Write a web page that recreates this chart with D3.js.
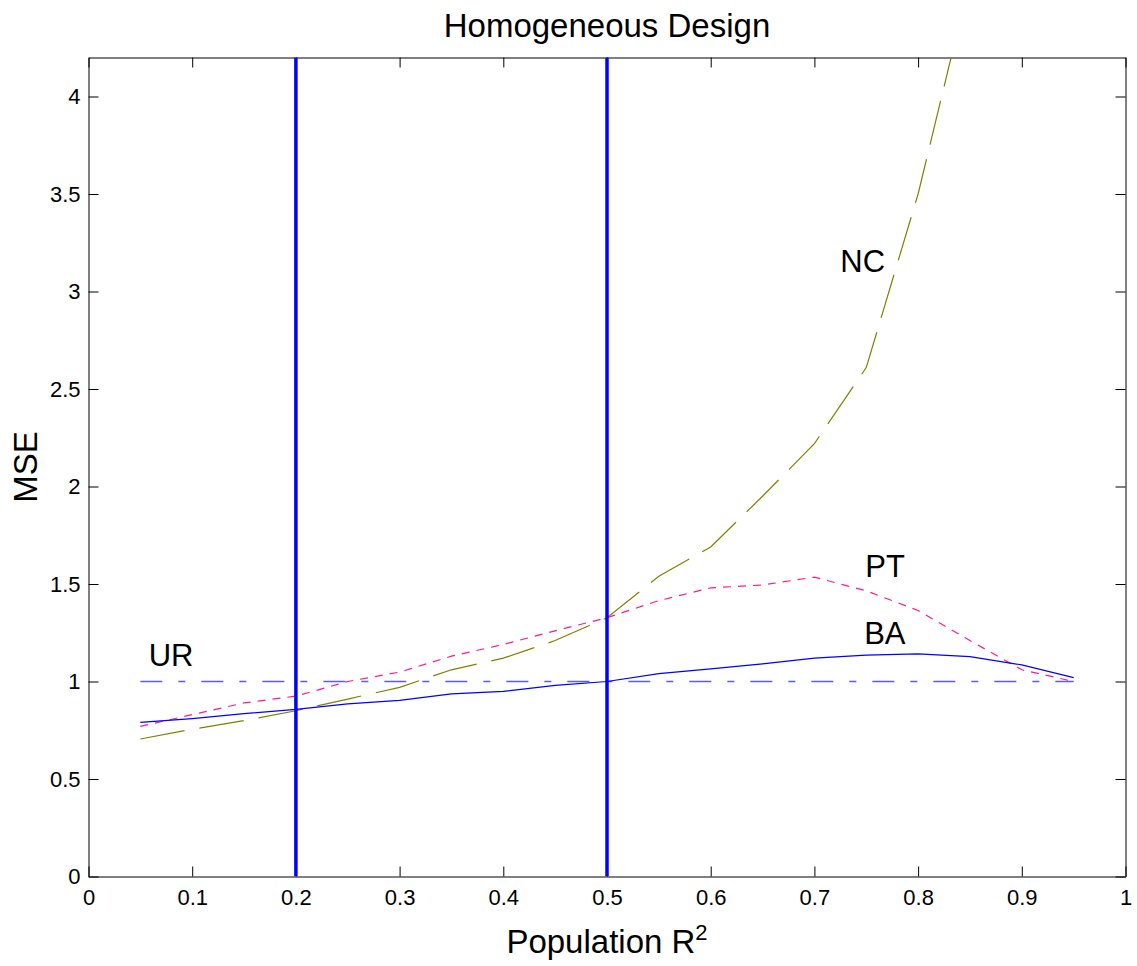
<!DOCTYPE html>
<html>
<head>
<meta charset="utf-8">
<script src="https://cdn.jsdelivr.net/npm/d3@7"></script>
<style>
  body { margin: 0; background: #fff; }
  #chart { width: 1137px; height: 966px; }
</style>
</head>
<body>
<div id="chart"></div>
<script>
// population R^2 grid
const r2 = [0.05, 0.1, 0.15, 0.2, 0.25, 0.3, 0.35, 0.4, 0.45, 0.5,
            0.55, 0.6, 0.65, 0.7, 0.75, 0.8, 0.85, 0.9, 0.95];

// MSE per estimator
const mseBA = [0.79, 0.81, 0.835, 0.857, 0.885, 0.903, 0.937, 0.949, 0.98, 1.0,
               1.04, 1.065, 1.09, 1.12, 1.135, 1.142, 1.128, 1.085, 1.02];
const msePT = [0.77, 0.83, 0.89, 0.925, 1.0, 1.048, 1.13, 1.19, 1.26, 1.327,
               1.415, 1.48, 1.495, 1.535, 1.465, 1.364, 1.21, 1.06, 1.0];
const mseNC = [0.705, 0.755, 0.8, 0.85, 0.91, 0.97, 1.06, 1.12, 1.21, 1.327,
               1.54, 1.69, 1.95, 2.22, 2.61, 3.5, 4.6];
const mseUR = [1, 1, 1, 1, 1, 1, 1, 1, 1, 1, 1, 1, 1, 1, 1, 1, 1, 1, 1];

// design cut-offs (thick vertical lines)
const cutoffs = [0.2, 0.5];

const xTicks = [0, 0.1, 0.2, 0.3, 0.4, 0.5, 0.6, 0.7, 0.8, 0.9, 1];
const yTicks = [0, 0.5, 1, 1.5, 2, 2.5, 3, 3.5, 4];

// curve labels: [text, x, y] in data units
const labels = [
  ['UR', 0.058, 1.082],
  ['NC', 0.725, 3.1],
  ['PT', 0.749, 1.535],
  ['BA', 0.748, 1.19]
];

const W = 1137, H = 966;
const margin = { top: 57.5, right: 11.5, bottom: 89.5, left: 88.5 };
const iw = W - margin.left - margin.right;
const ih = H - margin.top - margin.bottom;
const font = 'Liberation Sans, Arial, Helvetica, sans-serif';

const svg = d3.select('#chart')
  .append('svg')
  .attr('width', W)
  .attr('height', H)
  .attr('font-family', font);

const x = d3.scaleLinear().domain([0, 1]).range([0, iw]);
const y = d3.scaleLinear().domain([0, 4.2]).range([ih, 0]);

const g = svg.append('g')
  .attr('transform', `translate(${margin.left},${margin.top})`);

g.append('clipPath')
  .attr('id', 'plot-clip')
  .append('rect')
  .attr('width', iw)
  .attr('height', ih);

// axes, ticks pointing inward
const fmt = d3.format('');
g.append('g')
  .attr('transform', `translate(0,${ih})`)
  .call(d3.axisBottom(x).tickValues(xTicks).tickFormat(fmt).tickSizeInner(-10).tickSizeOuter(0).tickPadding(13));
g.append('g')
  .call(d3.axisLeft(y).tickValues(yTicks).tickFormat(fmt).tickSizeInner(-10).tickSizeOuter(0).tickPadding(8));
g.append('g')
  .call(d3.axisTop(x).tickValues(xTicks).tickFormat('').tickSizeInner(-10).tickSizeOuter(0));
g.append('g')
  .attr('transform', `translate(${iw},0)`)
  .call(d3.axisRight(y).tickValues(yTicks).tickFormat('').tickSizeInner(-10).tickSizeOuter(0));

g.selectAll('.tick text')
  .attr('font-size', 22)
  .attr('font-family', font)
  .attr('fill', '#000');
g.selectAll('.domain').attr('stroke', '#000');
g.selectAll('.tick line').attr('stroke', '#000');

const plot = g.append('g').attr('clip-path', 'url(#plot-clip)');

const line = d3.line()
  .x(d => x(d[0]))
  .y(d => y(d[1]));

const series = [
  { name: 'UR', vals: mseUR, color: '#5a5aff', dash: '22,16,7,16', w: 1.6 },
  { name: 'NC', vals: mseNC, color: '#808000', dash: '45,15', w: 1.2 },
  { name: 'PT', vals: msePT, color: '#ff1a8c', dash: '8,7', w: 1.2 },
  { name: 'BA', vals: mseBA, color: '#0000ff', dash: null, w: 1.2 }
];

plot.selectAll('path.series')
  .data(series)
  .join('path')
  .attr('class', 'series')
  .attr('fill', 'none')
  .attr('stroke', d => d.color)
  .attr('stroke-width', d => d.w)
  .attr('stroke-dasharray', d => d.dash)
  .attr('d', d => line(d.vals.map((v, i) => [r2[i], v])));

plot.selectAll('line.cut')
  .data(cutoffs)
  .join('line')
  .attr('class', 'cut')
  .attr('x1', d => x(d))
  .attr('x2', d => x(d))
  .attr('y1', y(0))
  .attr('y2', y(4.2))
  .attr('stroke', '#0000ff')
  .attr('stroke-width', 3.5);

g.selectAll('text.lbl')
  .data(labels)
  .join('text')
  .attr('class', 'lbl')
  .attr('x', d => x(d[1]))
  .attr('y', d => y(d[2]))
  .attr('font-size', 31)
  .text(d => d[0]);

// title and axis labels
svg.append('text')
  .attr('x', margin.left + iw / 2)
  .attr('y', 37)
  .attr('text-anchor', 'middle')
  .attr('font-size', 33)
  .text('Homogeneous Design');

const xl = svg.append('text')
  .attr('x', margin.left + iw / 2)
  .attr('y', 953)
  .attr('text-anchor', 'middle')
  .attr('font-size', 33);
xl.append('tspan').text('Population R');
xl.append('tspan').attr('font-size', 22).attr('dy', -13).text('2');

svg.append('text')
  .attr('transform', `translate(37,${margin.top + ih / 2}) rotate(-90)`)
  .attr('text-anchor', 'middle')
  .attr('font-size', 33)
  .text('MSE');
</script>
</body>
</html>
